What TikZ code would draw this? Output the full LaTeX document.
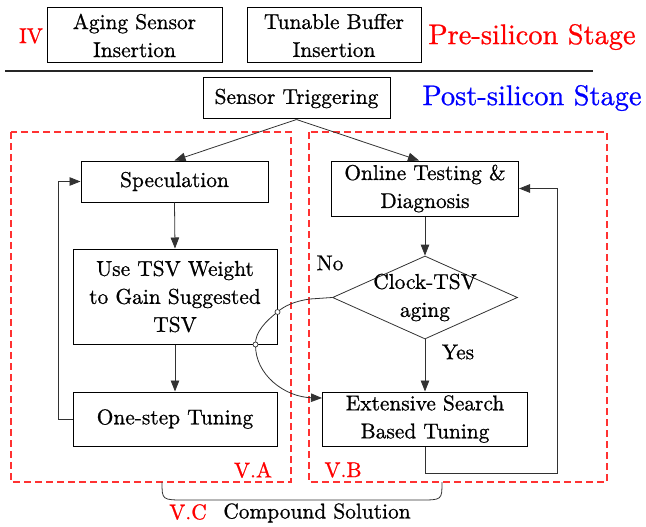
\documentclass[tikz,border=0pt]{standalone}
\usepackage{fontspec}
\setmainfont{lmroman10-regular.otf}[FakeBold=0.8]
\usetikzlibrary{arrows.meta,shapes.geometric}
\definecolor{stagered}{RGB}{255,0,0}
\definecolor{stageblue}{RGB}{0,0,255}
\definecolor{regionred}{RGB}{255,50,50}
\definecolor{linegray}{RGB}{50,50,50}

\begin{document}
\begin{tikzpicture}[x=1pt,y=-1pt,
  every node/.style={font=\fontsize{21.4}{28}\selectfont, inner sep=0pt},
  box/.style={draw=black, line width=1pt, align=center},
  conn/.style={draw=linegray, line width=0.8pt},
  arr/.style={conn, -{Triangle[length=11pt,width=8.5pt]}},
  region/.style={draw=regionred, line width=1.2pt, dash pattern=on 7pt off 4pt},
  tag/.style={text=stagered},
  stage/.style={font=\fontsize{28.4}{36}\selectfont},
  joint/.style={circle, draw=linegray, fill=white, line width=0.7pt, minimum size=5pt}
]
\useasboundingbox (0,0) rectangle (646,527);

% pre-silicon stage
\node[tag] (iv) at (31,36) {IV};
\node[box, minimum width=175pt, minimum height=55pt] (aging) at (134.5,35.5) {Aging Sensor\\Insertion};
\node[box, minimum width=174pt, minimum height=55pt] (tunable) at (334,35.5) {Tunable Buffer\\Insertion};
\node[stage, text=stagered] (pre) at (532,37) {Pre-silicon Stage};
\draw[line width=1.5pt, black!85] (5,71) -- (593,71);

% post-silicon stage
\node[box, minimum width=187pt, minimum height=41pt] (trig) at (296.5,98.5) {Sensor Triggering};
\node[stage, text=stageblue] (post) at (532,98) {Post-silicon Stage};

% regions
\draw[region] (11,132) rectangle (291,482);
\draw[region] (309,132) rectangle (607,482);
\node[tag] (va) at (253,470) {V.A};
\node[tag] (vb) at (343,470) {V.B};

% left flow
\node[box, minimum width=187pt, minimum height=41pt] (spec) at (174.5,181.5) {Speculation};
\node[box, minimum width=204pt, minimum height=95pt] (usetsv) at (175,296.5) {Use TSV Weight\\to Gain Suggested\\TSV};
\node[box, minimum width=204pt, minimum height=54pt] (onestep) at (175,419) {One-step Tuning};

% right flow
\node[box, minimum width=187pt, minimum height=55pt] (online) at (425,188.5) {Online Testing \&\\Diagnosis};
\node[diamond, draw=linegray, line width=0.8pt, minimum width=185pt, minimum height=83pt] (dia) at (425,297.5) {};
\node[align=center] (diatext) at (dia.center) {Clock-TSV\\aging};
\node[box, minimum width=205pt, minimum height=54pt] (ext) at (425,419) {Extensive Search\\Based Tuning};
\node (no) at (330,263) {No};
\node (yes) at (458,352) {Yes};

% connectors
\draw[arr] (trig.south) -- (spec.north);
\draw[arr] (trig.south) -- ([xshift=-6pt]online.north);
\draw[arr] (spec.south) -- (usetsv.north);
\draw[arr] (usetsv.south) -- (onestep.north);
\draw[arr] (onestep.west) -- ++(-14,0) |- (spec.west);
\draw[arr] (online.south) -- (dia.north);
\draw[arr] (dia.south) -- (ext.north);
\draw[arr] (ext.south) -- ++(0,27) -| ([xshift=38pt]online.east) -- (online.east);

% "No" branch, crossing the TSV weight box
\coordinate (j1) at ([yshift=-15.5pt]usetsv.east);
\coordinate (j2) at ([xshift=-22pt]usetsv.south east);
\coordinate (nobend) at (310,299);
\draw[arr] (dia.west) -- (nobend)
  .. controls (295,301) and (284,306) .. (j1)
  .. controls (266,321) and (255,332) .. (j2)
  .. controls (255,375) and (285,397) .. ([yshift=21pt]ext.west);
\node[joint] at (j1) {};
\node[joint] at (j2) {};

% compound solution bracket
\coordinate (bl) at (162,482);
\coordinate (br) at (442,482);
\draw[conn] (bl) .. controls (162,500) .. (185,500) -- (420,500) .. controls (442,500) .. (br);
\node[tag] (vc) at (188,512) {V.C};
\node (compound) at (317,513) {Compound Solution};
\end{tikzpicture}
\end{document}
